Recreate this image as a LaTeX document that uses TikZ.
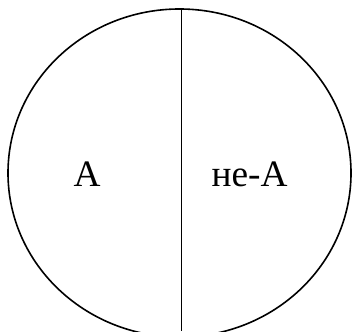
\documentclass[tikz,border=0pt]{standalone}
\usepackage{fontspec}
\setmainfont{Liberation Serif}
\usetikzlibrary{shapes.geometric}

\begin{document}
\begin{tikzpicture}[
    x=0.75pt, y=-0.75pt,
    every node/.style={font=\fontsize{28}{30}\selectfont},
    whole/.style={ellipse, draw, line width=1.2pt, inner sep=0pt, minimum width=343*0.75pt, minimum height=328*0.75pt},
    divider/.style={line width=1.2pt},
    label/.style={anchor=base, inner sep=0pt}
]
\useasboundingbox (0,0) rectangle (352,331);
\clip (0,0) rectangle (352,331);

% Universe split in two
\node[whole] (all) at (179.5,173) {};
\coordinate (top) at (181.5,9);
\coordinate (bottom) at (181.5,331);
\draw[divider] (top) -- (bottom);

% Labels
\node[label] (a) at (87,186) {А};
\node[label] (nota) at (249.5,186) {не-А};

\end{tikzpicture}
\end{document}
